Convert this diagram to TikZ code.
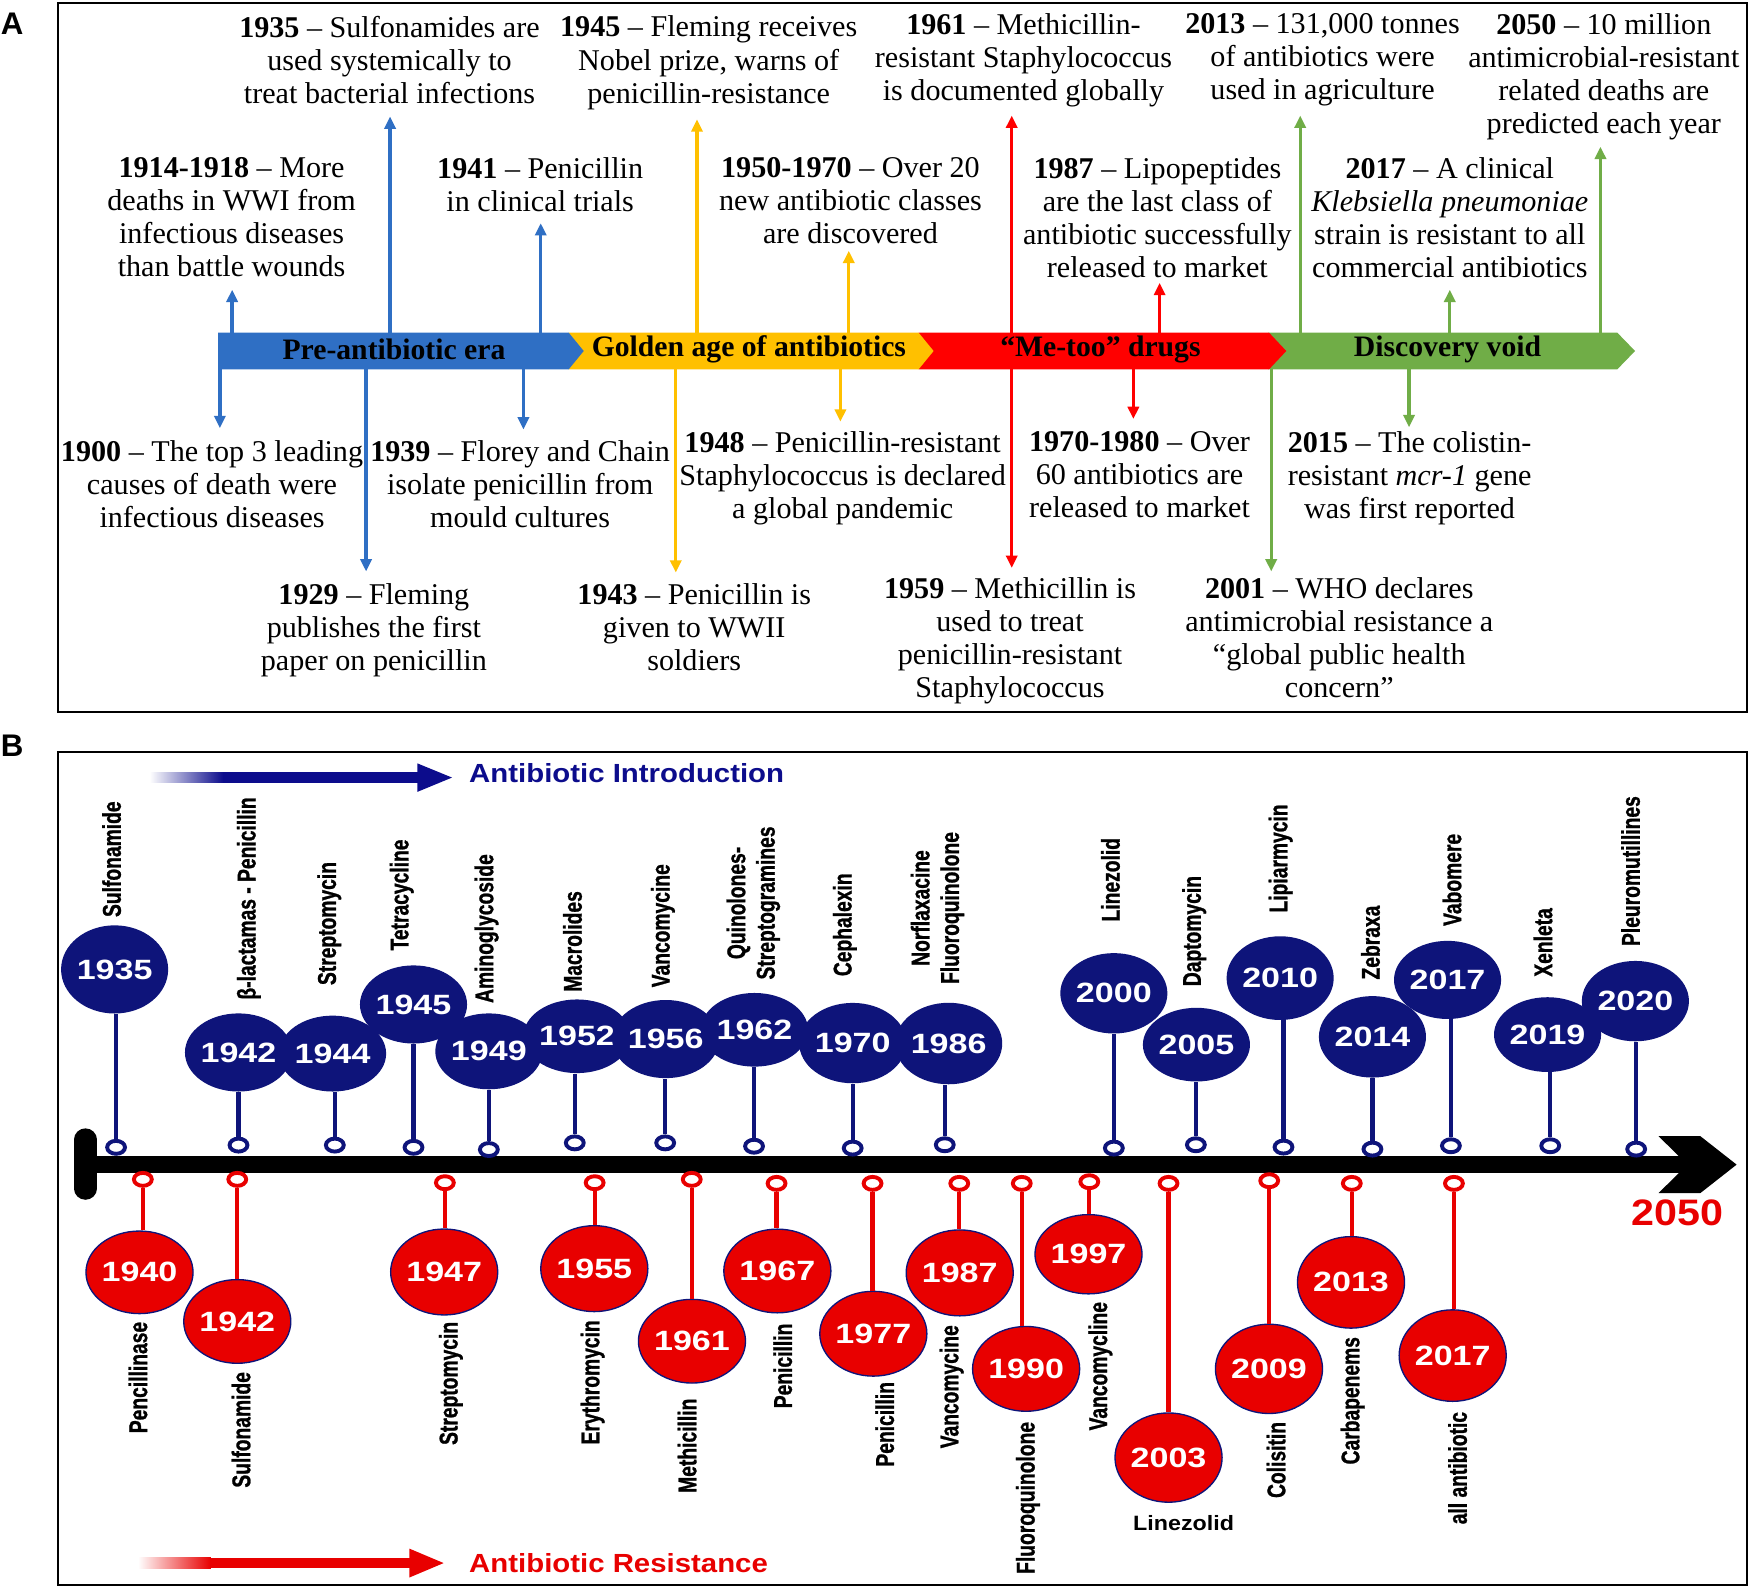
\documentclass[tikz,border=0pt]{standalone}
\usepackage{fontspec}
\setmainfont{Liberation Serif}
\newfontfamily\wsans[FakeStretch=1.12]{Liberation Sans}
\newfontfamily\ysans{Liberation Sans Bold}[FakeStretch=1.22]
\newfontfamily\csans{Liberation Sans Bold}[FakeStretch=0.75,FakeBold=1]
\newfontfamily\psans{Liberation Sans}
\usetikzlibrary{arrows.meta,shapes.geometric}
\definecolor{ablue}{RGB}{47,111,196}
\definecolor{ayellow}{RGB}{255,192,0}
\definecolor{ared}{RGB}{255,0,0}
\definecolor{agreen}{RGB}{112,173,71}
\definecolor{bnavy}{RGB}{14,20,122}
\definecolor{inavy}{RGB}{12,12,140}
\definecolor{bred}{RGB}{232,0,0}
\begin{document}
\begin{tikzpicture}[x=0.5pt,y=-0.5pt,
  evt/.style={align=center,inner sep=0pt,font=\fontsize{13.5}{14.8}\selectfont,anchor=north},
  arrA/.style={line width=1.5pt,-{Triangle[width=5pt,length=5.5pt]}},
  barlab/.style={font=\fontsize{13.3}{16}\selectfont\bfseries,inner sep=0pt},
  yrfont/.style={font=\ysans\fontsize{12.5}{15}\selectfont},
  bcirc/.style={ellipse,fill=bnavy,inner sep=0pt,text=white,yrfont},
  rcirc/.style={ellipse,fill=bred,draw=bnavy,line width=0.6pt,inner sep=0pt,text=white,yrfont},
  bring/.style={ellipse,draw=bnavy,fill=white,line width=1.75pt,minimum width=8pt,minimum height=5.8pt,inner sep=0pt},
  rring/.style={ellipse,draw=bred,fill=white,line width=1.75pt,minimum width=8pt,minimum height=5.8pt,inner sep=0pt},
  bstem/.style={draw=bnavy,line width=1.9pt},
  rstem/.style={draw=bred,line width=1.9pt},
  labfont/.style={font=\csans\fontsize{11.5}{13.2}\selectfont},
  blab/.style={rotate=90,anchor=west,inner sep=0pt,align=center,labfont},
  rlab/.style={rotate=90,anchor=east,inner sep=0pt,align=center,labfont},
  panlab/.style={font=\psans\bfseries\fontsize{14}{16}\selectfont,inner sep=0pt},
]
\useasboundingbox (0,0) rectangle (1568,1422);
\fill[white] (0,0) rectangle (1568,1422);

% ================= PANEL A =================
\node[panlab] (labA) at (11,21) {A};
\draw[line width=1pt] (52,3) rectangle (1565,638);

% bar
\fill[agreen] (1136.5,298) -- (1449,298) -- (1465,314.5) -- (1449,331) -- (1136.5,331) -- cycle;
\fill[ared] (823,298) -- (1137,298) -- (1152.5,314.5) -- (1137,331) -- (823,331) -- cycle;
\fill[ayellow] (509.5,298) -- (823,298) -- (836.5,314.5) -- (823,331) -- (509.5,331) -- cycle;
\fill[ablue] (195.5,298) -- (509.5,298) -- (523,314.5) -- (509.5,331) -- (195.5,331) -- cycle;
\coordinate (Atop) at (0,298);
\coordinate (Abot) at (0,331);
\node[barlab] (e1) at (353,313) {Pre-antibiotic era};
\node[barlab] (e2) at (671,313) {Golden age of antibiotics};
\node[barlab] (e3) at (986,313) {“Me-too” drugs};
\node[barlab] (e4) at (1297,313) {Discovery void};

% texts
\node[evt] (t1935) at (349,14) {\textbf{1935} – Sulfonamides are\\used systemically to\\treat bacterial infections};
\node[evt] (t1945) at (635,14) {\textbf{1945} – Fleming receives\\Nobel prize, warns of\\penicillin-resistance};
\node[evt] (t1961) at (917,12) {\textbf{1961} – Methicillin-\\resistant Staphylococcus\\is documented globally};
\node[evt] (t2013) at (1185,12) {\textbf{2013} – 131,000 tonnes\\of antibiotics were\\used in agriculture};
\node[evt] (t2050) at (1437,12) {\textbf{2050} – 10 million\\antimicrobial-resistant\\related deaths are\\predicted each year};
\node[evt] (t1914) at (207.5,141) {\textbf{1914-1918} – More\\deaths in WWI from\\infectious diseases\\than battle wounds};
\node[evt] (t1941) at (484,141) {\textbf{1941} – Penicillin\\in clinical trials};
\node[evt] (t1950) at (762,141) {\textbf{1950-1970} – Over 20\\new antibiotic classes\\are discovered};
\node[evt] (t1987) at (1037,141) {\textbf{1987} – Lipopeptides\\are the last class of\\antibiotic successfully\\released to market};
\node[evt] (t2017) at (1299,141) {\textbf{2017} – A clinical\\\textit{Klebsiella pneumoniae}\\strain is resistant to all\\commercial antibiotics};
\node[evt] (t1900) at (190,394.5) {\textbf{1900} – The top 3 leading\\causes of death were\\infectious diseases};
\node[evt] (t1939) at (466,394.5) {\textbf{1939} – Florey and Chain\\isolate penicillin from\\mould cultures};
\node[evt] (t1948) at (755,386) {\textbf{1948} – Penicillin-resistant\\Staphylococcus is declared\\a global pandemic};
\node[evt] (t1970) at (1021,386) {\textbf{1970-1980} – Over\\60 antibiotics are\\released to market};
\node[evt] (t2015) at (1263,386) {\textbf{2015} – The colistin-\\resistant \textit{mcr-1} gene\\was first reported};
\node[evt] (t1929) at (335,522.5) {\textbf{1929} – Fleming\\publishes the first\\paper on penicillin};
\node[evt] (t1943) at (622,522.5) {\textbf{1943} – Penicillin is\\given to WWII\\soldiers};
\node[evt] (t1959) at (905,517) {\textbf{1959} – Methicillin is\\used to treat\\penicillin-resistant\\Staphylococcus};
\node[evt] (t2001) at (1200,517) {\textbf{2001} – WHO declares\\antimicrobial resistance a\\“global public health\\concern”};

% arrow tips
\coordinate (u1914) at (208,259.6);
\coordinate (u1935) at (349.5,104.4);
\coordinate (u1941) at (484.5,200);
\coordinate (u1945) at (624.5,107);
\coordinate (u1950) at (760.5,224.7);
\coordinate (u1961) at (906.5,103.6);
\coordinate (u1987) at (1039,253.5);
\coordinate (u2013) at (1165,103.6);
\coordinate (u2017) at (1299,259.6);
\coordinate (u2050) at (1434,131.5);
\coordinate (d1900) at (197,383.6);
\coordinate (d1929) at (328,512);
\coordinate (d1939) at (469,384.8);
\coordinate (d1943) at (605.5,513);
\coordinate (d1948) at (753,377.8);
\coordinate (d1959) at (906.5,508.8);
\coordinate (d1970) at (1015.5,375.4);
\coordinate (d2001) at (1139,512);
\coordinate (d2015) at (1262.5,382.8);

\foreach \c/\col in {u1914/ablue,u1935/ablue,u1941/ablue,u1945/ayellow,u1950/ayellow,u1961/ared,u1987/ared,u2013/agreen,u2017/agreen,u2050/agreen}
  \draw[arrA,draw=\col,fill=\col] (\c |- Atop) -- (\c);
\foreach \c/\col in {d1900/ablue,d1929/ablue,d1939/ablue,d1943/ayellow,d1948/ayellow,d1959/ared,d1970/ared,d2001/agreen,d2015/agreen}
  \draw[arrA,draw=\col,fill=\col] (\c |- Abot) -- (\c);

% ================= PANEL B =================
\node[panlab] (labB) at (11,668) {B};
\draw[line width=1pt] (52,674) rectangle (1565,1420);

% introduction arrow
\shade[left color=white,right color=inavy] (134,692) rectangle (200,701.5);
\fill[inavy] (199.5,692) rectangle (375,701.5);
\fill[inavy] (374,684) -- (405,696.7) -- (374,709.5) -- cycle;
\node[anchor=west,inner sep=0pt,text=inavy,font=\wsans\bfseries\fontsize{11.75}{14}\selectfont] (intro) at (420,693) {Antibiotic Introduction};

% resistance arrow
\shade[left color=white,right color=bred] (123.6,1395.8) rectangle (189,1405.3);
\fill[bred] (188.5,1395.8) rectangle (367.5,1405.3);
\fill[bred] (366.7,1387.5) -- (397.5,1400.5) -- (366.7,1413.5) -- cycle;
\node[anchor=west,inner sep=0pt,text=bred,font=\wsans\bfseries\fontsize{11.75}{14}\selectfont] (resist) at (420,1400.5) {Antibiotic Resistance};

% main timeline
\draw[line width=7.3pt] (78,1043.5) -- (1515,1043.5);
\draw[line width=10pt,line cap=round] (76.5,1021) -- (76.5,1065);
\fill (1486,1018) -- (1523.5,1018) -- (1556,1043.5) -- (1523.5,1069) -- (1486,1069) -- (1512,1043.5) -- cycle;
\node[text=bred,inner sep=0pt,font=\wsans\bfseries\fontsize{16.5}{18}\selectfont] (y2050) at (1503,1087) {2050};

% introductions
\foreach \yr/\cx/\cy/\hw/\hh/\rx/\ry/\lx/\ly/\lab in {
 1935/102.7/868.6/43.5/39.5/104/1028/100/822/Sulfonamide,
 1942/213.7/943/41/35/213.7/1026/223/896/β-lactamas - Penicillin,
 1944/298/944/41/34/300/1026/295/883/Streptomycin,
 1945/370.5/900/41/35/370.5/1028/360/852/Tetracycline,
 1949/438/942/35/34/438/1030/436/899/Aminoglycoside,
 1952/517/928.5/36/33/515/1024/513/889/Macrolides,
 1956/596.5/931/38.5/35/596/1024/594/885/Vancomycine,
 1962/676/922.7/39.5/33/675.6/1027/675/878/{Quinolones-\\Streptogramines},
 1970/764/934.6/38.5/36/764/1028.7/757/875/Cephalexin,
 1986/850/935/42/36.5/846.5/1025.7/840/882/{Norflaxacine\\Fluoroquinolone},
 2000/998/890/39.5/36/998/1028.7/995/826/Linezolid,
 2005/1072/936/42/33/1071.5/1025.7/1070/884/Daptomycin,
 2010/1147/876.4/43/37.5/1150/1027.8/1147.5/818/Lipiarmycin,
 2014/1229.7/929/38.5/36.5/1229.7/1029.6/1228/878/Zebraxa,
 2017/1297/878/42/35/1300/1026.6/1301/830/Vabomere,
 2019/1386.6/927/41/33.5/1389/1026.6/1382.5/875.5/Xenleta,
 2020/1465.3/897/44.5/36/1466/1029.6/1461/848/Pleuromutillines}
{
  \node[bcirc,minimum width=\hw pt,minimum height=\hh pt] (bc\yr) at (\cx,\cy) {\yr};
  \node[bring] (br\yr) at (\rx,\ry) {};
  \node[blab] (bl\yr) at (\lx,\ly) {\lab};
  \draw[bstem] (br\yr.north) -- (br\yr.north |- bc\yr.south);
}

% resistances
\foreach \yr/\cx/\cy/\hw/\hh/\rx/\ry/\lx/\ly/\lab in {
 1940/125/1140/43/37/128/1056.7/123.6/1184/Pencillinase,
 1942/212.6/1184/44.5/37.5/212.6/1056.7/216/1229/Sulfonamide,
 1947/398/1139.7/47/38.5/398.6/1059.7/404/1184/Streptomycin,
 1955/532.5/1136.7/46.5/38.5/532.8/1059.7/531/1182.6/Erythromycin,
 1961/620/1201.7/46.5/37.5/619.8/1056.7/615.7/1252.8/Methicillin,
 1967/696.5/1138.8/46.5/37.5/695.8/1060.3/701.3/1185.6/Penicillin,
 1977/782.5/1195/47/38/781.8/1060.3/792.7/1237.9/Penicillin,
 1987/859.9/1140.5/46.5/38.5/859.5/1060.3/852.7/1187/Vancomycine,
 1990/919.4/1226.5/46/38/915.5/1060.3/921/1273.7/Fluoroquinolone,
 1997/975.3/1123.8/43.5/35.5/976/1058.8/986/1166.2/Vancomycline,
 2009/1137/1226.5/46.5/40/1137.2/1057.9/1143.4/1273.7/Colisitin,
 2013/1210.5/1149/46.5/41/1211.2/1060.3/1212/1197.6/Carbapenems,
 2017/1301.6/1214.6/46.5/41/1302.7/1060.3/1306/1264.7/all antibiotic}
{
  \node[rcirc,minimum width=\hw pt,minimum height=\hh pt] (rc\yr) at (\cx,\cy) {\yr};
  \node[rring] (rr\yr) at (\rx,\ry) {};
  \node[rlab] (rl\yr) at (\lx,\ly) {\lab};
  \draw[rstem] (rr\yr.south) -- (rr\yr.south |- rc\yr.north);
}
\node[rcirc,minimum width=47pt,minimum height=40pt] (rc2003) at (1047,1306) {2003};
\node[rring] (rr2003) at (1047,1060.3) {};
\draw[rstem] (rr2003.south) -- (rc2003.north);
\node[inner sep=0pt,font=\wsans\bfseries\fontsize{9.3}{11}\selectfont] (rl2003) at (1060.5,1364.7) {Linezolid};
\end{tikzpicture}
\end{document}
